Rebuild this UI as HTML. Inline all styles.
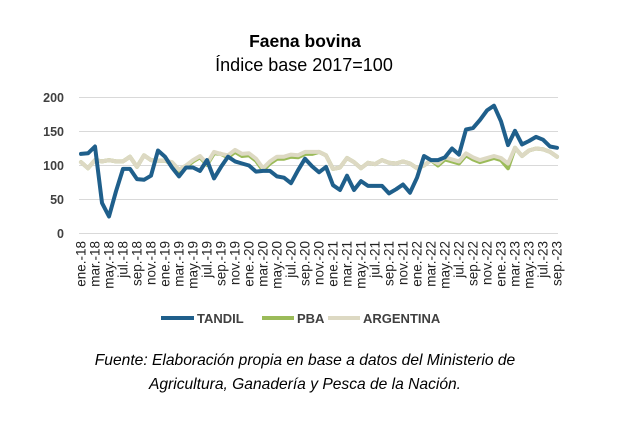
<!DOCTYPE html>
<html><head><meta charset="utf-8"><style>
body{margin:0;background:#fff;width:624px;height:432px;overflow:hidden}
text{font-family:"Liberation Sans",sans-serif}
</style></head><body>
<svg width="624" height="432" xmlns="http://www.w3.org/2000/svg">
<text x="305" y="47" text-anchor="middle" font-weight="bold" font-size="17.5" fill="#000">Faena bovina</text>
<text x="304" y="71" text-anchor="middle" font-size="18" fill="#000">Índice base 2017=100</text>
<g stroke="#d9d9d9" stroke-width="1">
<line x1="79" x2="558" y1="97.5" y2="97.5"/><line x1="79" x2="558" y1="131.5" y2="131.5"/>
<line x1="79" x2="558" y1="165.5" y2="165.5"/><line x1="79" x2="558" y1="199.5" y2="199.5"/>
<line x1="79" x2="558" y1="233.5" y2="233.5"/></g>
<g font-size="12.5" font-weight="bold" fill="#404040" text-anchor="end">
<text x="64" y="102">200</text><text x="64" y="136">150</text><text x="64" y="170">100</text><text x="64" y="204">50</text><text x="64" y="238">0</text></g>
<g id="xl" font-size="13.5" fill="#222" text-anchor="end"></g>
<g fill="none" stroke-linejoin="round" stroke-linecap="round">
<polyline id="pba" stroke="#9bbb59" stroke-width="4"/>
<polyline id="arg" stroke="#ddd9c3" stroke-width="4"/>
<polyline id="tan" stroke="#1f5f8b" stroke-width="4"/>
</g>
<line x1="161" x2="194" y1="318" y2="318" stroke="#1f5f8b" stroke-width="4"/>
<line x1="262" x2="294" y1="318" y2="318" stroke="#9bbb59" stroke-width="4"/>
<line x1="328" x2="360" y1="318" y2="318" stroke="#ddd9c3" stroke-width="4"/>
<g font-size="13" font-weight="bold" fill="#404040">
<text x="197" y="323">TANDIL</text><text x="297" y="323">PBA</text><text x="363" y="323">ARGENTINA</text></g>
<g font-size="15.6" font-style="italic" fill="#000" text-anchor="middle">
<text x="305" y="365">Fuente: Elaboración propia en base a datos del Ministerio de</text>
<text x="305" y="389">Agricultura, Ganadería y Pesca de la Nación.</text></g>
</svg>
<script>
var T=[117,118,128,45,25,62,95,95,80,79,85,122,113,97,84,97,97,92,108,81,98,113,106,103,100,91,92,92,84,82,74,93,110,99,90,98,71,64,85,64,77,70,70,70,59,65,72,60,82,114,108,108,112,125,116,153,155,167,181,188,165,130,151,131,136,142,138,128,126];
var A=[105,96,108,106,108,106,106,113,98,115,108,107,107,105,94,100,108,114,103,120,117,115,123,117,118,110,96,106,113,113,116,115,120,120,120,115,95,97,111,105,96,104,102,108,104,103,106,103,96,100,108,103,112,109,106,118,112,108,111,114,111,103,126,114,122,125,124,120,113];
var P=A.map(function(v,i){return v-(i>20&&i<34?3:0)-(i>50&&i<62?3:0)+(i==61?-4:0)-(i>12&&i<20?2:0);});
function pts(a){return a.map(function(v,i){return (81+i*7.0).toFixed(1)+","+(233.5-v*0.68).toFixed(1)}).join(" ")}
document.getElementById("tan").setAttribute("points",pts(T));
document.getElementById("arg").setAttribute("points",pts(A));
document.getElementById("pba").setAttribute("points",pts(P));
var m=["ene.","mar.","may.","jul.","sep.","nov."],g=document.getElementById("xl"),s="";
for(var i=0;i<69;i+=2){var mo=(i%12)/2,yr=18+Math.floor(i/12),x=81+i*7+4.5;
s+='<text transform="translate('+x+',241) rotate(-90)">'+m[mo]+'-'+yr+'</text>';}
g.innerHTML=s;
</script>
</body></html>
